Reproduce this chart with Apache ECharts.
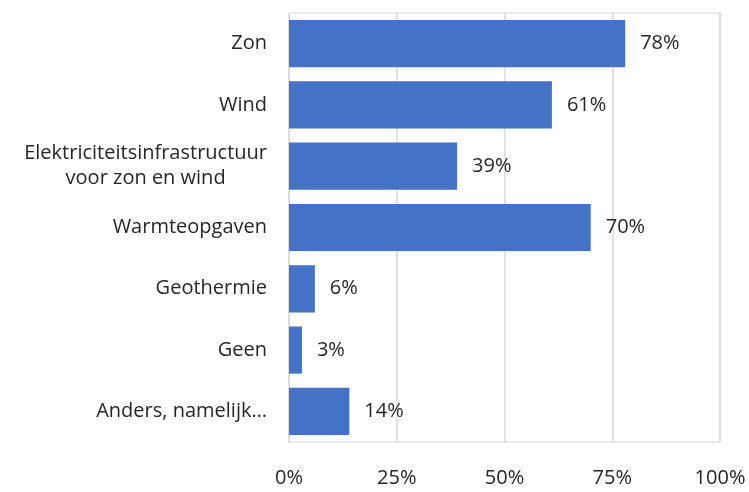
<!DOCTYPE html>
<html>
<head>
<meta charset="utf-8">
<script src="https://cdn.jsdelivr.net/npm/echarts@6/dist/echarts.min.js"></script>
<style>
  html, body { margin: 0; padding: 0; background: #fff; }
  #chart { width: 749px; height: 492px; }
</style>
</head>
<body>
<div id="chart"></div>
<script>
// categories top to bottom
const categories = [
  'Zon',
  'Wind',
  'Elektriciteitsinfrastructuur\nvoor zon en wind',
  'Warmteopgaven',
  'Geothermie',
  'Geen',
  'Anders, namelijk…'
]
const values = [78, 61, 39, 70, 6, 3, 14]
const tickValues = [0, 25, 50, 75, 100]

const font = '"Open Sans", sans-serif'
const textColor = '#262626'

const chart = echarts.init(document.getElementById('chart'))

chart.setOption({
  animation: false,
  grid: {
    left: 289,
    right: 29,
    top: 13,
    bottom: 50,
    show: true,
    borderColor: '#d9d9d9',
    borderWidth: 1
  },
  xAxis: {
    type: 'value',
    min: tickValues[0],
    max: tickValues[tickValues.length - 1],
    interval: 25,
    axisLine: { show: false },
    axisTick: { show: false },
    splitLine: { lineStyle: { color: '#d9d9d9', width: 1.5 } },
    axisLabel: {
      formatter: '{value}%',
      margin: 26,
      fontFamily: font,
      fontSize: 20,
      color: textColor
    }
  },
  yAxis: {
    type: 'category',
    inverse: true,
    data: categories,
    axisLine: { show: false },
    axisTick: { show: false },
    axisLabel: {
      margin: 22,
      fontFamily: font,
      fontSize: 20,
      color: textColor,
      lineHeight: 25,
      formatter: function (v) {
        return v.split('\n').map(function (s) { return '{c|' + s + '}' }).join('\n')
      },
      rich: {
        c: { align: 'center', fontFamily: font, fontSize: 20, color: textColor, lineHeight: 25 }
      }
    }
  },
  series: [
    {
      type: 'bar',
      data: values,
      barCategoryGap: '23%',
      itemStyle: { color: '#4472C4' },
      label: {
        show: true,
        position: 'right',
        distance: 15,
        formatter: '{c}%',
        fontFamily: font,
        fontSize: 20,
        color: textColor
      }
    }
  ]
})
</script>
</body>
</html>
